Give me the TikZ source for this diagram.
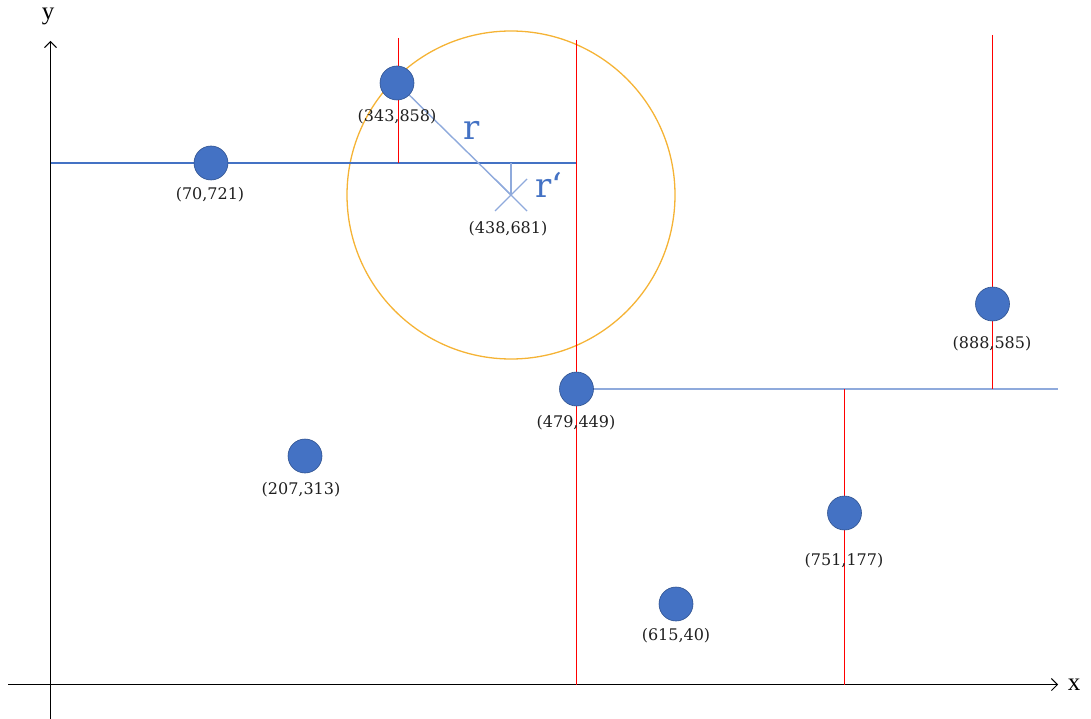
\documentclass[tikz,border=0pt]{standalone}
\usepackage{fontspec}
\setmainfont{DejaVu Serif}
\newfontfamily\axisfont{Liberation Serif}
\usetikzlibrary{arrows.meta,calc}
\definecolor{ptfill}{HTML}{4472C4}
\definecolor{ptedge}{HTML}{2F528F}
\definecolor{lightblue}{HTML}{8FAADC}
\definecolor{ringorange}{HTML}{F5B335}
\definecolor{splitred}{HTML}{FF0000}
\tikzset{
  pt/.style={circle, fill=ptfill, draw=ptedge, line width=0.6pt, minimum size=34pt, inner sep=0pt},
  lbl/.style={font=\fontsize{16}{18}\selectfont, text=black!88, inner sep=0pt},
  axis/.style={line width=1pt, black, -{Straight Barb[length=6pt,width=12pt,line width=0.9pt]}},
  splitv/.style={splitred, line width=1.1pt},
  splith/.style={ptfill, line width=1.2pt},
  guide/.style={lightblue, line width=1.4pt},
  axlbl/.style={font=\axisfont\fontsize{25}{27}\selectfont, inner sep=0pt},
  rlbl/.style={font=\fontsize{34}{36}\selectfont, text=ptfill, inner sep=0pt}
}
\begin{document}
\begin{tikzpicture}[x=1pt, y=-1pt]
\useasboundingbox (0,0) rectangle (1091,719);

% point centres
\coordinate (c1) at (211,163);
\coordinate (c2) at (397,83);
\coordinate (c3) at (576.5,389);
\coordinate (c4) at (305,456);
\coordinate (c5) at (844.5,513);
\coordinate (c6) at (676,604);
\coordinate (c7) at (992.5,304);
\coordinate (q) at (511,195);

% axes
\coordinate (xs) at (8,684.5);
\coordinate (xe) at (1058,684.5);
\coordinate (ys) at (50.5,719);
\coordinate (ye) at (50.5,41);
\draw[axis] (xs) -- (xe);
\draw[axis] (ys) -- (ye);
\node[axlbl] (xl) at (1074,685) {x};
\node[axlbl] (yl) at (48,16) {y};

% search ring around the query point
\draw[ringorange, line width=1.3pt] (q) circle[radius=164];

% splitting lines
\coordinate (v1a) at (398.5,38);  \coordinate (v1b) at (398.5,163);
\coordinate (v2a) at (576.5,40);  \coordinate (v2b) at (576.5,684.5);
\coordinate (v3a) at (992.5,35);  \coordinate (v3b) at (992.5,389);
\coordinate (v4a) at (844.5,389); \coordinate (v4b) at (844.5,684.5);
\coordinate (h1a) at (50.5,163);  \coordinate (h1b) at (576.5,163);
\coordinate (h2b) at (1058,389);
\draw[splith] (h1a) -- (h1b);
\draw[lightblue, line width=1.4pt] (c3) -- (h2b);
\draw[splitv] (v1a) -- (v1b);
\draw[splitv] (v2a) -- (v2b);
\draw[splitv] (v3a) -- (v3b);
\draw[splitv] (v4a) -- (v4b);

% radius and distance to the split
\coordinate (rp) at (511,163);
\draw[guide] (c2) -- (q);
\draw[guide] (rp) -- (q);
\draw[guide] ($(q)+(-16,16)$) -- ($(q)+(16,-16)$);
\draw[guide] ($(q)+(-16,-16)$) -- ($(q)+(16,16)$);
\node[rlbl] (r) at (472,130) {r};
\node[rlbl] (rr) at (549,185) {r‘};

% data points
\node[pt] (p1) at (c1) {};
\node[pt] (p2) at (c2) {};
\node[pt] (p3) at (c3) {};
\node[pt] (p4) at (c4) {};
\node[pt] (p5) at (c5) {};
\node[pt] (p6) at (c6) {};
\node[pt] (p7) at (c7) {};

\node[lbl] (l1) at (210,195) {(70,721)};
\node[lbl] (l2) at (397,117) {(343,858)};
\node[lbl] (lq) at (508,229) {(438,681)};
\node[lbl] (l3) at (576,423) {(479,449)};
\node[lbl] (l4) at (301,490) {(207,313)};
\node[lbl] (l5) at (844,561) {(751,177)};
\node[lbl] (l6) at (676,636) {(615,40)};
\node[lbl] (l7) at (992,344) {(888,585)};
\end{tikzpicture}
\end{document}
